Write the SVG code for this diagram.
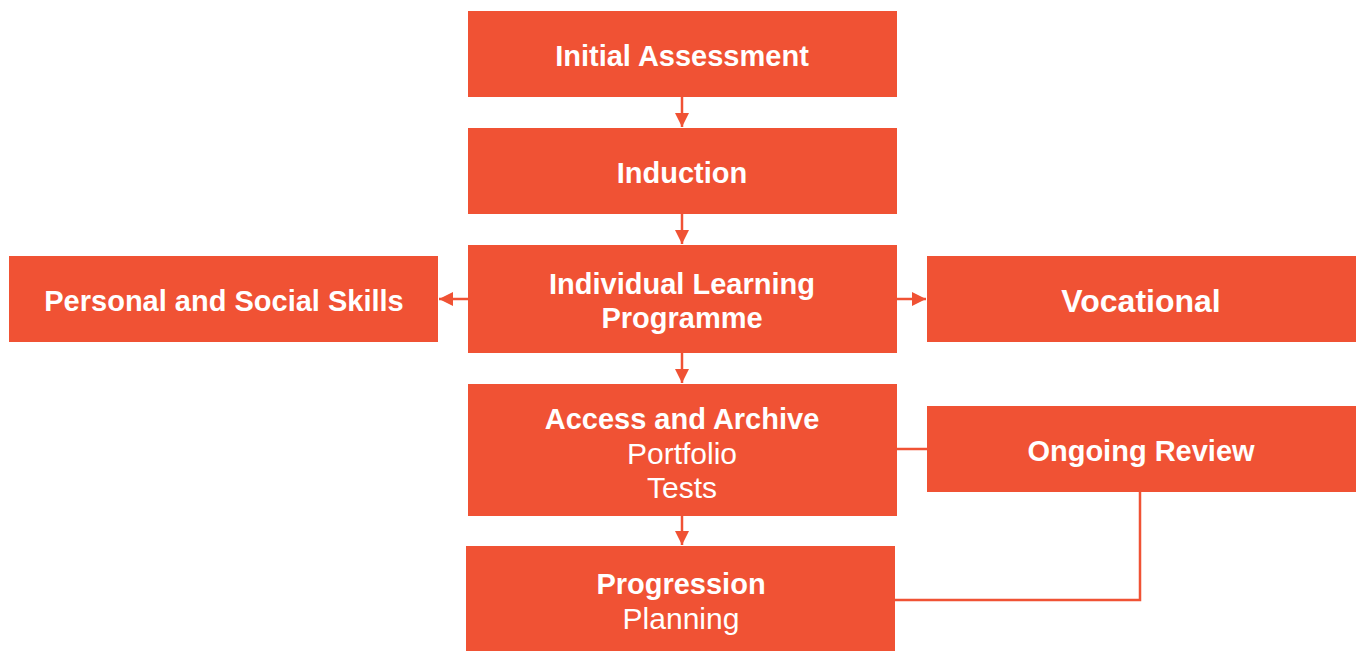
<svg xmlns="http://www.w3.org/2000/svg" width="1360" height="651" viewBox="0 0 1360 651">
<style>
.box{fill:#F05234}
.t{font-family:"Liberation Sans",Arial,sans-serif;fill:#fff;text-anchor:middle;font-size:30px}
.b{font-weight:bold;font-size:29px}
.ln{stroke:#F05234;stroke-width:2.5;fill:none}
</style>
<defs>
<marker id="ah" viewBox="0 0 10 10" refX="10" refY="5" markerWidth="14" markerHeight="14" markerUnits="userSpaceOnUse" orient="auto">
<path d="M0,0 L10,5 L0,10 z" fill="#F05234"/>
</marker>
</defs>
<rect width="1360" height="651" fill="#fff"/>
<g id="connectors">
<line class="ln" x1="682" y1="97" x2="682" y2="127" marker-end="url(#ah)"/>
<line class="ln" x1="682" y1="214" x2="682" y2="244" marker-end="url(#ah)"/>
<line class="ln" x1="468" y1="299" x2="439" y2="299" marker-end="url(#ah)"/>
<line class="ln" x1="897" y1="299" x2="926" y2="299" marker-end="url(#ah)"/>
<line class="ln" x1="682" y1="353" x2="682" y2="383" marker-end="url(#ah)"/>
<line class="ln" x1="682" y1="516" x2="682" y2="545" marker-end="url(#ah)"/>
<line class="ln" x1="897" y1="449" x2="927" y2="449"/>
<polyline class="ln" points="1140,492 1140,600 895,600"/>
</g>
<g id="initial"><rect class="box" x="468" y="11" width="429" height="86"/><text class="t b" x="682" y="66">Initial Assessment</text></g>
<g id="induction"><rect class="box" x="468" y="128" width="429" height="86"/><text class="t b" x="682" y="183">Induction</text></g>
<g id="ilp"><rect class="box" x="468" y="245" width="429" height="108"/><text class="t b" x="682" y="294">Individual Learning</text><text class="t b" x="682" y="328">Programme</text></g>
<g id="personal"><rect class="box" x="9" y="256" width="429" height="86"/><text class="t b" x="224" y="311">Personal and Social Skills</text></g>
<g id="vocational"><rect class="box" x="927" y="256" width="429" height="86"/><text class="t b" x="1141" y="312" style="font-size:32px">Vocational</text></g>
<g id="access"><rect class="box" x="468" y="384" width="429" height="132"/><text class="t b" x="682" y="429">Access and Archive</text><text class="t" x="682" y="464">Portfolio</text><text class="t" x="682" y="498">Tests</text></g>
<g id="ongoing"><rect class="box" x="927" y="406" width="429" height="86"/><text class="t b" x="1141" y="461">Ongoing Review</text></g>
<g id="progression"><rect class="box" x="466" y="546" width="429" height="105"/><text class="t b" x="681" y="594">Progression</text><text class="t" x="681" y="629">Planning</text></g>
</svg>
